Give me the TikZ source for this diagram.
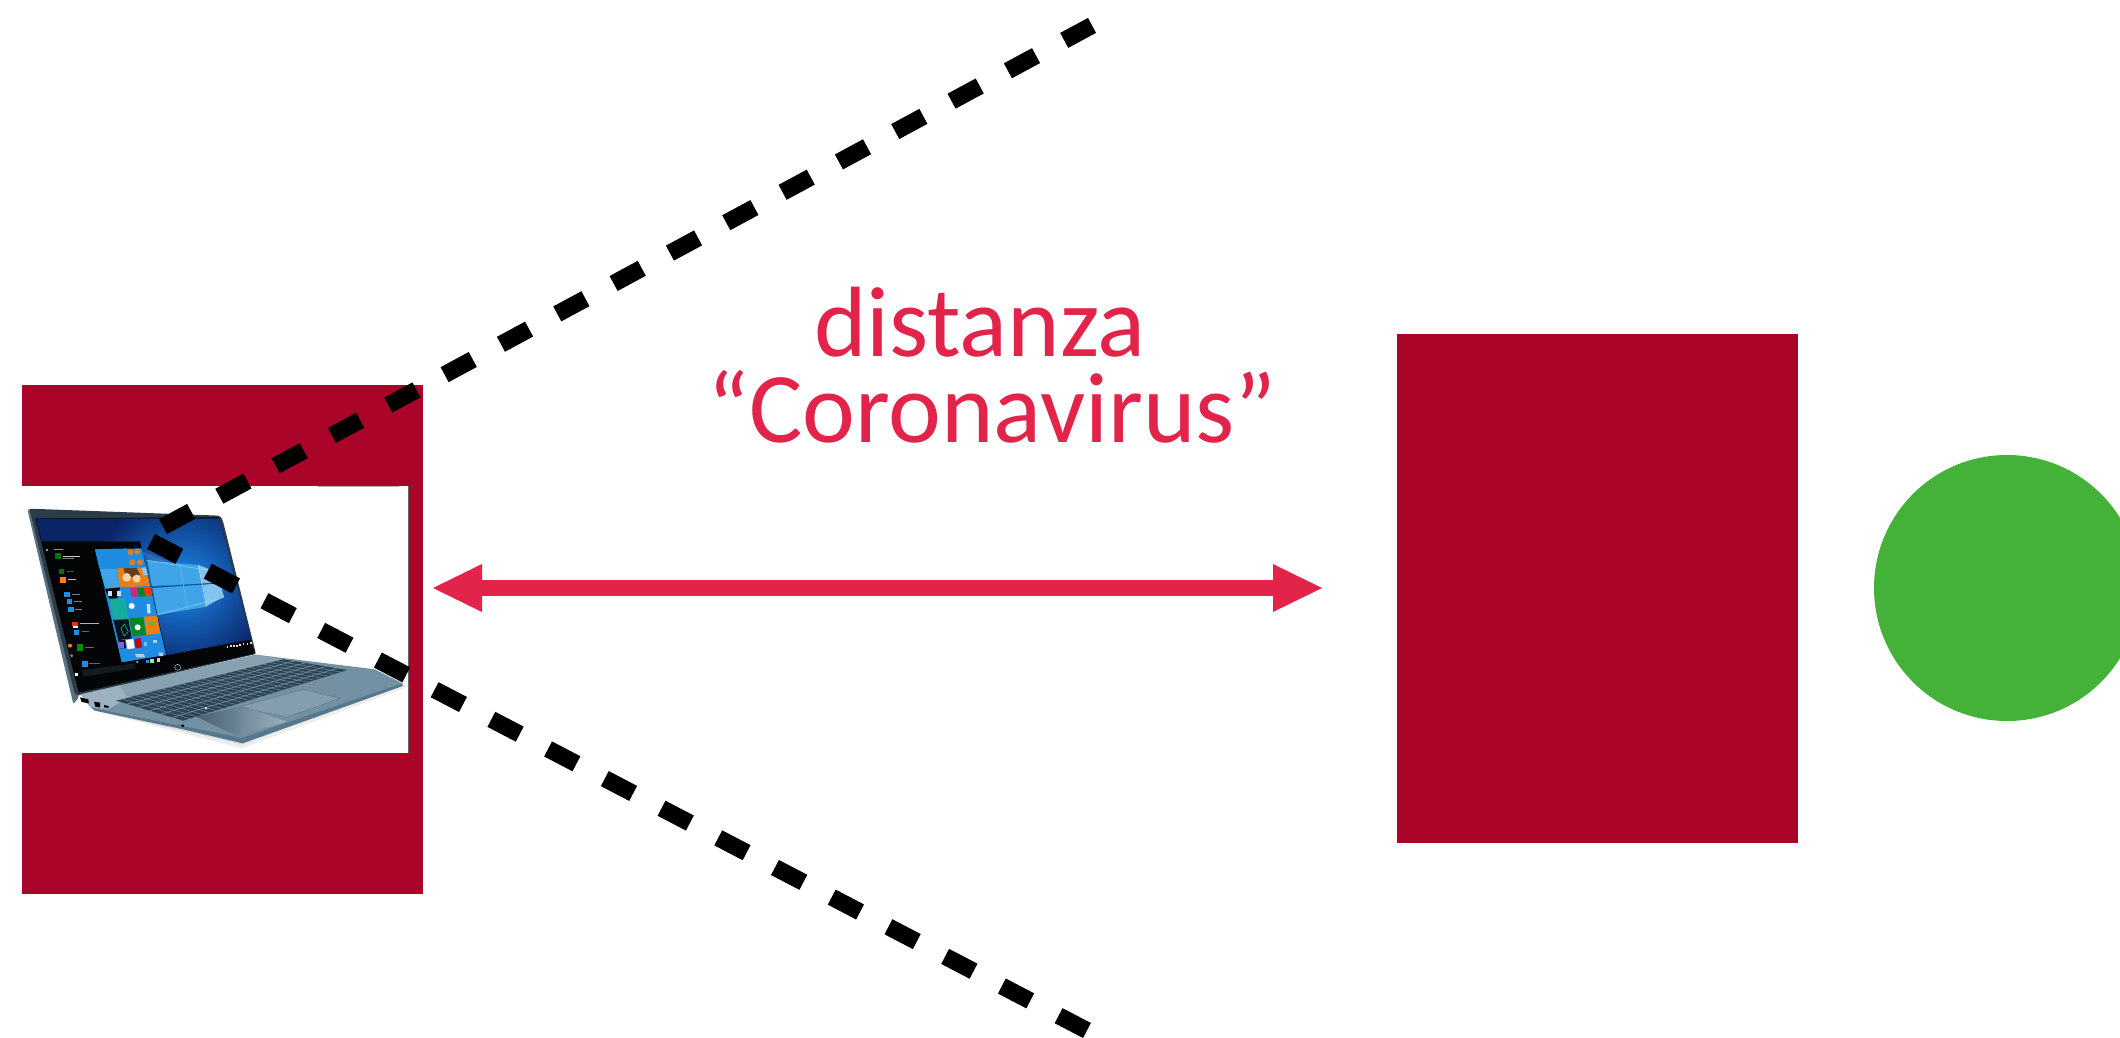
\documentclass[tikz,border=0pt]{standalone}
\usepackage{fontspec}
\setmainfont{Carlito}
\definecolor{boxred}{HTML}{AA0528}
\definecolor{txtred}{HTML}{E2234A}
\definecolor{dotgreen}{HTML}{44B239}
\definecolor{lidc}{HTML}{2C3B48}
\definecolor{lidl}{HTML}{5A7182}
\definecolor{basec}{HTML}{7391A3}
\definecolor{basel}{HTML}{9DB2C0}
\definecolor{basedk}{HTML}{56788C}
\definecolor{keyc}{HTML}{2C4454}
\definecolor{wallc}{HTML}{1C8AEC}
\definecolor{wallk}{HTML}{0A2468}
\definecolor{tilec}{HTML}{1E8CE0}
\definecolor{tilel}{HTML}{3FA4E8}
\tikzset{
  block/.style={fill=boxred,draw=none,minimum width=401pt,inner sep=0pt,outer sep=0pt},
  sight/.style={draw=black,line width=17pt,line cap=butt,dash pattern=on 32pt off 32pt},
  span/.style={draw=txtred,line width=16pt},
  arrowhead/.style={fill=txtred,draw=none},
  caption/.style={text=txtred,font=\fontsize{100}{104}\selectfont,anchor=base,inner sep=0pt}
}
\begin{document}
\begin{tikzpicture}[x=1pt,y=-1pt]
\useasboundingbox (0,0) rectangle (2120,1037);
\fill[white] (0,0) rectangle (2120,1037);
% red blocks
\node[block,anchor=north west,minimum height=508.5pt] (left) at (22,385) {};
\node[block,anchor=north west,minimum height=508.5pt] (right) at (1397,334) {};
\node[circle,fill=dotgreen,minimum size=266pt,inner sep=0pt] (dot) at (2007,588) {};
% picture background
\fill[white] (22,485.5) rectangle (408,753);
\draw[line width=0.8pt,black!60] (408,485.5) -- (408,753);
\fill[black!30!white] (318,485.5) rectangle (399,487);
% laptop: units are 3x crop pixels
\begin{scope}[shift={(20,500)},x=0.33333pt,y=-0.33333pt]
  % soft shadow
  \fill[black!7] (200,625) -- (665,745) -- (1165,560) -- (1145,545) -- cycle;
  \fill[black!14] (215,630) -- (665,733) -- (1150,556) -- (1145,545) -- cycle;
  % lid
  \fill[lidl,rounded corners=2pt] (22,28) -- (45,28) -- (178,590) -- (160,612) -- cycle;
  \fill[lidc,rounded corners=2pt] (28,26) -- (600,47) -- (608,60) -- (708,462) -- (180,585) -- (165,585) -- cycle;
  % glass
  \fill[black!92!lidc] (46,55) -- (597,52) -- (698,440) -- (706,460) -- (176,578) -- cycle;
  % wallpaper
  \begin{scope}
    \clip (48,56) -- (598,56) -- (693,418) -- (440,465) -- (360,125) -- (66,125) -- cycle;
    \fill[wallk] (0,0) rectangle (720,500);
    \shade[inner color=wallc,outer color=wallk] (490,250) circle (270);
    \fill[white,opacity=.10] (360,150) -- (610,260) -- (600,300) -- (380,175) -- cycle;
    % window panes
    \fill[tilel] (382,182) -- (535,195) -- (548,250) -- (396,258) -- cycle;
    \fill[tilel] (398,264) -- (550,254) -- (560,320) -- (412,345) -- cycle;
    \fill[white!35!tilel] (535,195) -- (590,215) -- (600,248) -- (548,250) -- cycle;
    \fill[white!35!tilel] (550,254) -- (600,250) -- (612,290) -- (560,318) -- cycle;
    \draw[white!70!tilel,line width=.7pt] (535,195) -- (560,320);
    \draw[wallk!70!wallc,line width=.7pt] (396,262) -- (600,249);
    \draw[white!50!tilel,line width=.5pt] (378,180) -- (590,215);
    \draw[white!50!tilel,line width=.5pt] (410,345) -- (612,292);
    \draw[white!30!tilel,line width=.5pt] (480,195) -- (503,330);
  \end{scope}
  % start menu
  \fill[black!93!lidc] (66,125) -- (360,125) -- (440,465) -- (168,530) -- cycle;
  % live tiles
  \fill[tilec] (225,148) -- (365,145) -- (438,465) -- (305,487) -- cycle;
  \fill[tilel] (240,208) -- (288,207) -- (300,262) -- (255,265) -- cycle;
  \fill[black!93!lidc] (225,205) -- (238,205) -- (255,267) -- (300,262) -- (292,295) -- (268,296) -- cycle;
  \fill[tilec] (225,148) -- (320,146) -- (326,200) -- (238,205) -- cycle;
  \fill[orange!60!brown] (290,205) -- (378,202) -- (390,258) -- (300,262) -- cycle;
  \fill[black!50!brown] (310,205) -- (350,203) -- (360,225) -- (320,235) -- cycle;
  \fill[orange!35!white] (320,232) circle (13);
  \fill[orange!35!white] (350,236) circle (12);
  \fill[tilel!60!white] (365,205) -- (378,202) -- (383,225) -- (370,225) -- cycle;
  \fill[orange!40!brown] (332,157) circle (9);
  \fill[orange!40!brown] (352,155) circle (9);
  \fill[orange!40!brown] (337,187) circle (9);
  \fill[orange!40!brown] (360,187) circle (9);
  \fill[magenta!80!black] (330,265) -- (350,264) -- (354,290) -- (335,291) -- cycle;
  \fill[green!50!black!80!tilec] (351,264) -- (372,263) -- (376,289) -- (355,290) -- cycle;
  \fill[red!60!orange] (372,263) -- (393,262) -- (397,288) -- (376,289) -- cycle;
  \fill[white!75!tilec] (265,272) rectangle ++(12,16);
  \fill[white!75!tilec] (290,272) rectangle ++(12,16);
  \fill[tilec!70!green] (268,298) -- (315,296) -- (325,355) -- (280,358) -- cycle;
  \fill[white] (335,318) circle (9);
  \fill[white!75!tilec] (380,312) -- (390,312) -- (392,340) -- (382,340) -- cycle;
  \fill[black!88!tilec] (280,360) -- (325,358) -- (335,415) -- (295,420) -- cycle;
  \draw[tilec!60!green,line width=.6pt] (303,385) -- (313,372) -- (325,395) -- (312,408) -- cycle;
  \fill[green!55!black!70!teal] (328,355) -- (370,352) -- (378,405) -- (338,410) -- cycle;
  \fill[white] (353,382) circle (9);
  \fill[orange!75!brown] (372,350) -- (412,348) -- (420,400) -- (380,405) -- cycle;
  \fill[green!30!brown] (385,365) rectangle ++(22,14);
  \fill[black!88!tilec] (295,420) -- (300,445) -- (318,445) -- (315,420) -- cycle;
  \fill[tilel!50!magenta] (297,425) rectangle ++(16,18);
  \fill[white] (318,420) -- (340,417) -- (344,445) -- (322,447) -- cycle;
  \fill[red!80!black] (343,417) -- (362,414) -- (366,442) -- (347,445) -- cycle;
  \fill[tilel!70!white] (372,425) rectangle ++(10,12);
  \fill[white!60!tilec] (400,420) rectangle ++(10,10);
  \fill[white!60!tilec] (345,462) -- (372,462) -- (375,472) -- (350,472) -- cycle;
  \fill[white!60!tilec] (415,458) -- (428,458) -- (430,468) -- (418,468) -- cycle;
  % list of apps
  \fill[black!40!white] (78,148) rectangle ++(7,6);
  \fill[black!40!white] (102,147) rectangle ++(28,4);
  \fill[green!45!black] (105,160) rectangle ++(17,17);
  \fill[white!80!black] (128,167) rectangle ++(52,3);
  \fill[black!50!white] (128,173) rectangle ++(35,2);
  \fill[green!45!black] (118,208) rectangle ++(15,15);
  \fill[orange] (120,230) rectangle ++(18,18);
  \fill[black!70!white] (140,214) rectangle ++(22,3);
  \fill[white!75!black] (143,236) rectangle ++(26,3);
  \fill[tilec] (133,275) rectangle ++(16,15);
  \fill[tilec] (140,298) rectangle ++(16,15);
  \fill[tilec] (145,322) rectangle ++(16,15);
  \fill[black!50!white] (156,282) rectangle ++(24,3);
  \fill[black!50!white] (162,304) rectangle ++(24,3);
  \fill[black!50!white] (166,327) rectangle ++(20,3);
  \fill[red!65!orange] (155,365) rectangle ++(18,12);
  \fill[white] (160,377) rectangle ++(13,8);
  \fill[tilec] (162,390) rectangle ++(16,16);
  \fill[white!70!black] (180,369) rectangle ++(58,3);
  \fill[black!60!white] (186,394) rectangle ++(22,3);
  \fill[orange!80!brown] (150,437) circle (6);
  \fill[green!55!black] (172,432) rectangle ++(18,20);
  \fill[black!60!white] (195,440) rectangle ++(26,3);
  \fill[black!50!white] (155,467) circle (5);
  \fill[tilec] (185,482) rectangle ++(18,18);
  \fill[black!60!white] (208,488) rectangle ++(32,3);
  \fill[white] (165,518) rectangle ++(10,10);
  \fill[black!55!lidc] (185,510) -- (342,490) -- (346,505) -- (190,530) -- cycle;
  % taskbar and tray
  \fill[tilec] (378,480) rectangle ++(8,8);
  \fill[white!50!green] (390,477) rectangle ++(12,12);
  \fill[orange!40!white] (410,474) rectangle ++(10,12);
  \fill[black!40!white] (352,486) circle (4);
  \foreach \i/\j in {620/437,630/436,640/435,648/434,658/432,668/430,680/428,690/426}
    \fill[white!85!black] (\i,\j) rectangle ++(5,6);
  % HP logo
  \fill[black!75!lidc] (473,502) circle (11);
  \draw[white!60!lidc,line width=.5pt] (473,502) circle (9);
  % base
  \fill[basec] (182,583) -- (708,464) -- (1065,508) -- (1147,550) -- (665,722) -- (490,678) -- (212,622) -- cycle;
  \fill[basel] (182,583) -- (300,556) -- (330,590) -- (265,628) -- (212,622) -- cycle;
  \fill[basec!85!white] (708,464) -- (790,478) -- (320,590) -- (300,556) -- cycle;
  % palm area shading
  \shade[left color=basedk!80!black,right color=basel] (530,650) -- (665,618) -- (800,665) -- (650,708) -- cycle;
  % front edge
  \fill[basedk] (212,622) -- (490,678) -- (665,714) -- (1147,550) -- (1148,558) -- (668,730) -- (490,688) -- (225,632) -- cycle;
  % ports
  \fill[black] (180,592) -- (205,598) -- (207,610) -- (185,606) -- cycle;
  \fill[black] (222,605) -- (240,608) -- (240,622) -- (226,620) -- cycle;
  \fill[black] (252,615) -- (266,618) -- (266,624) -- (252,622) -- cycle;
  \fill[black] (488,677) circle (5);
  % keyboard
  \fill[keyc] (288,602) -- (790,478) -- (982,510) -- (490,662) -- cycle;
  \begin{scope}
    \clip (288,602) -- (790,478) -- (982,510) -- (490,662) -- cycle;
    \foreach \t in {0.17,0.34,0.5,0.67,0.84}
      \draw[basel,line width=.55pt,opacity=.75] ({288+202*\t},{602+60*\t}) -- ({790+192*\t},{478+32*\t});
    \foreach \s in {0.04,0.08,...,1.0}
      \draw[basel,line width=.55pt,opacity=.55] ({288+502*\s},{602-124*\s}) -- ({490+492*\s},{662-152*\s});
  \end{scope}
  % touchpad
  \fill[basec!88!white] (660,620) -- (850,568) -- (960,595) -- (800,652) -- cycle;
  \draw[basedk,line width=.4pt] (660,620) -- (850,568) -- (960,595) -- (800,652) -- cycle;
  \fill[white] (558,625) circle (4);
\end{scope}
% sight lines
\coordinate (upA) at (163,526.6);
\coordinate (upB) at (1092,25.4);
\coordinate (loA) at (151,541.5);
\coordinate (loB) at (1087,1030.5);
\draw[sight] (upA) -- (upB);
\draw[sight] (loA) -- (loB);
% double arrow
\coordinate (arL) at (433,588);
\coordinate (arR) at (1322,588);
\draw[span] ([xshift=48pt]arL) -- ([xshift=-48pt]arR);
\fill[arrowhead] (arL) -- ++(49,-24) -- ++(0,48) -- cycle;
\fill[arrowhead] (arR) -- ++(-49,-24) -- ++(0,48) -- cycle;
% caption
\node[caption] (capA) at (980,356) {distanza};
\node[caption] (capB) at (992,442) {“Coronavirus”};
\end{tikzpicture}
\end{document}
